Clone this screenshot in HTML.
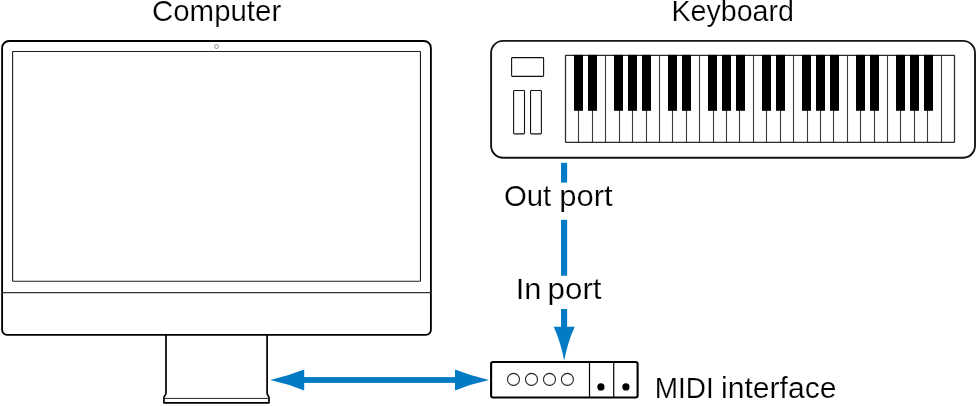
<!DOCTYPE html>
<html><head><meta charset="utf-8"><title>MIDI setup</title>
<style>
html,body{margin:0;padding:0;background:#fff;}
body{width:978px;height:406px;overflow:hidden;position:relative;}
svg{display:block;}
text{font-family:"Liberation Sans",Arial,Helvetica,sans-serif;fill:#000;stroke:#fff;stroke-width:0.2px;paint-order:fill stroke;}
.tl{will-change:transform;position:absolute;left:0;top:0;}
</style></head><body>
<svg width="978" height="406" viewBox="0 0 978 406">
<rect width="978" height="406" fill="#fff"/>

<g fill="none" stroke="#000">
<path d="M166 335V393.3c0 2 -2.1 2.4 -2.1 4.4V402.8H269V397.7c0 -2 -1.9 -2.4 -1.9 -4.4V335" stroke-width="1.7" fill="#fff" stroke-linejoin="round"/>
<path d="M164 398.4H268.8" stroke-width="1" stroke="#222"/>
<path d="M9.1 40.95H423.9a7 7 0 0 1 7 7V329.9a5 5 0 0 1 -5 5H7.1a5 5 0 0 1 -5 -5V47.95a7 7 0 0 1 7 -7Z" stroke-width="1.85" fill="#fff"/>
<rect x="12.6" y="51.5" width="407.85" height="229.78" rx="0.6" stroke-width="1.1" stroke="#1c1c1c"/>
<path d="M2 292.6H431" stroke-width="1.2" stroke="#333"/>
<circle cx="216.5" cy="46.5" r="2" stroke-width="0.55" stroke="#444"/>
</g>
<g fill="none" stroke="#000">
<rect x="491.1" y="40.9" width="483.9" height="116.9" rx="12" stroke-width="1.9" fill="#fff" stroke="#151515"/>
<rect x="511.6" y="57.6" width="32" height="18.8" rx="0.8" stroke-width="1.1" stroke="#111"/>
<rect x="513.6" y="90.45" width="10.9" height="43.4" rx="0.9" stroke-width="1.1" stroke="#111"/>
<rect x="530.55" y="90.45" width="10.85" height="43.4" rx="0.9" stroke-width="1.1" stroke="#111"/>
<rect x="565.50" y="55.4" width="389.00" height="86.9" rx="0.6" stroke-width="1.25" stroke="#2a2a2a"/>
<path d="M578.5 55.4V142.3M592.5 55.4V142.3M605.5 55.4V142.3M619.5 55.4V142.3M632.5 55.4V142.3M646.5 55.4V142.3M659.5 55.4V142.3M672.5 55.4V142.3M686.5 55.4V142.3M699.5 55.4V142.3M713.5 55.4V142.3M726.5 55.4V142.3M739.5 55.4V142.3M753.5 55.4V142.3M766.5 55.4V142.3M780.5 55.4V142.3M793.5 55.4V142.3M807.5 55.4V142.3M820.5 55.4V142.3M833.5 55.4V142.3M847.5 55.4V142.3M860.5 55.4V142.3M874.5 55.4V142.3M887.5 55.4V142.3M900.5 55.4V142.3M914.5 55.4V142.3M927.5 55.4V142.3M941.5 55.4V142.3" stroke-width="1.1" stroke="#3a3a3a"/>
</g>
<g fill="#000">
<rect x="574.0" y="54.9" width="9" height="55.9"/>
<rect x="588.0" y="54.9" width="9" height="55.9"/>
<rect x="614.0" y="54.9" width="9" height="55.9"/>
<rect x="628.0" y="54.9" width="9" height="55.9"/>
<rect x="642.0" y="54.9" width="9" height="55.9"/>
<rect x="668.0" y="54.9" width="9" height="55.9"/>
<rect x="682.0" y="54.9" width="9" height="55.9"/>
<rect x="708.0" y="54.9" width="9" height="55.9"/>
<rect x="722.0" y="54.9" width="9" height="55.9"/>
<rect x="736.0" y="54.9" width="9" height="55.9"/>
<rect x="762.0" y="54.9" width="9" height="55.9"/>
<rect x="776.0" y="54.9" width="9" height="55.9"/>
<rect x="802.0" y="54.9" width="9" height="55.9"/>
<rect x="816.0" y="54.9" width="9" height="55.9"/>
<rect x="830.0" y="54.9" width="9" height="55.9"/>
<rect x="856.0" y="54.9" width="9" height="55.9"/>
<rect x="870.0" y="54.9" width="9" height="55.9"/>
<rect x="896.0" y="54.9" width="9" height="55.9"/>
<rect x="910.0" y="54.9" width="9" height="55.9"/>
<rect x="924.0" y="54.9" width="9" height="55.9"/>
</g>
<g fill="#037AC4">
<rect x="561" y="162.8" width="6.15" height="19.8"/>
<rect x="561" y="219.8" width="6.15" height="55.9"/>
<rect x="561" y="309" width="6.15" height="19"/>
<path d="M553.7 326.8H574.7Q567.6 342.5 564.2 360.7Q560.8 342.5 553.7 326.8Z"/>
<rect x="303" y="377.1" width="153" height="5.8"/>
<path d="M304.2 369.6V390.4Q288.3 384 270.2 380Q288.3 376 304.2 369.6Z"/>
<path d="M455 369.6V390.4Q470.9 384 489 380Q470.9 376 455 369.6Z"/>
</g>
<g fill="none" stroke="#000">
<rect x="491.1" y="362" width="146.5" height="35.5" rx="2" stroke-width="2.1" fill="#fff"/>
<path d="M589.5 362V397.5M613.7 362V397.5" stroke-width="1.2"/>
<circle cx="513.5" cy="379.4" r="6" stroke-width="1.1" stroke="#222"/>
<circle cx="531.5" cy="379.4" r="6" stroke-width="1.1" stroke="#222"/>
<circle cx="549.5" cy="379.4" r="6" stroke-width="1.1" stroke="#222"/>
<circle cx="567.4" cy="379.4" r="6" stroke-width="1.1" stroke="#222"/>
</g>
<circle cx="600.9" cy="386.9" r="3.6" fill="#000"/><circle cx="625.9" cy="386.9" r="3.6" fill="#000"/>
</svg>
<svg class="tl" width="978" height="406" viewBox="0 0 978 406">
<text font-size="29.6"><tspan x="152.02" y="21.20" textLength="129.17" lengthAdjust="spacingAndGlyphs">Computer</tspan></text>
<text font-size="29.6"><tspan x="671.47" y="21.30" textLength="122.46" lengthAdjust="spacingAndGlyphs">Keyboard</tspan></text>
<text font-size="29.6"><tspan x="504.00" y="206.10" textLength="47.26" lengthAdjust="spacingAndGlyphs">Out</tspan> <tspan x="559.20" y="206.10" textLength="53.49" lengthAdjust="spacingAndGlyphs">port</tspan></text>
<text font-size="29.6"><tspan x="515.72" y="298.95" textLength="25.72" lengthAdjust="spacingAndGlyphs">In</tspan> <tspan x="547.55" y="298.95" textLength="54.02" lengthAdjust="spacingAndGlyphs">port</tspan></text>
<text font-size="29.6"><tspan x="654.80" y="397.80" textLength="58.94" lengthAdjust="spacingAndGlyphs">MIDI</tspan> <tspan x="721.03" y="397.80" textLength="115.40" lengthAdjust="spacingAndGlyphs">interface</tspan></text>
</svg></body></html>
